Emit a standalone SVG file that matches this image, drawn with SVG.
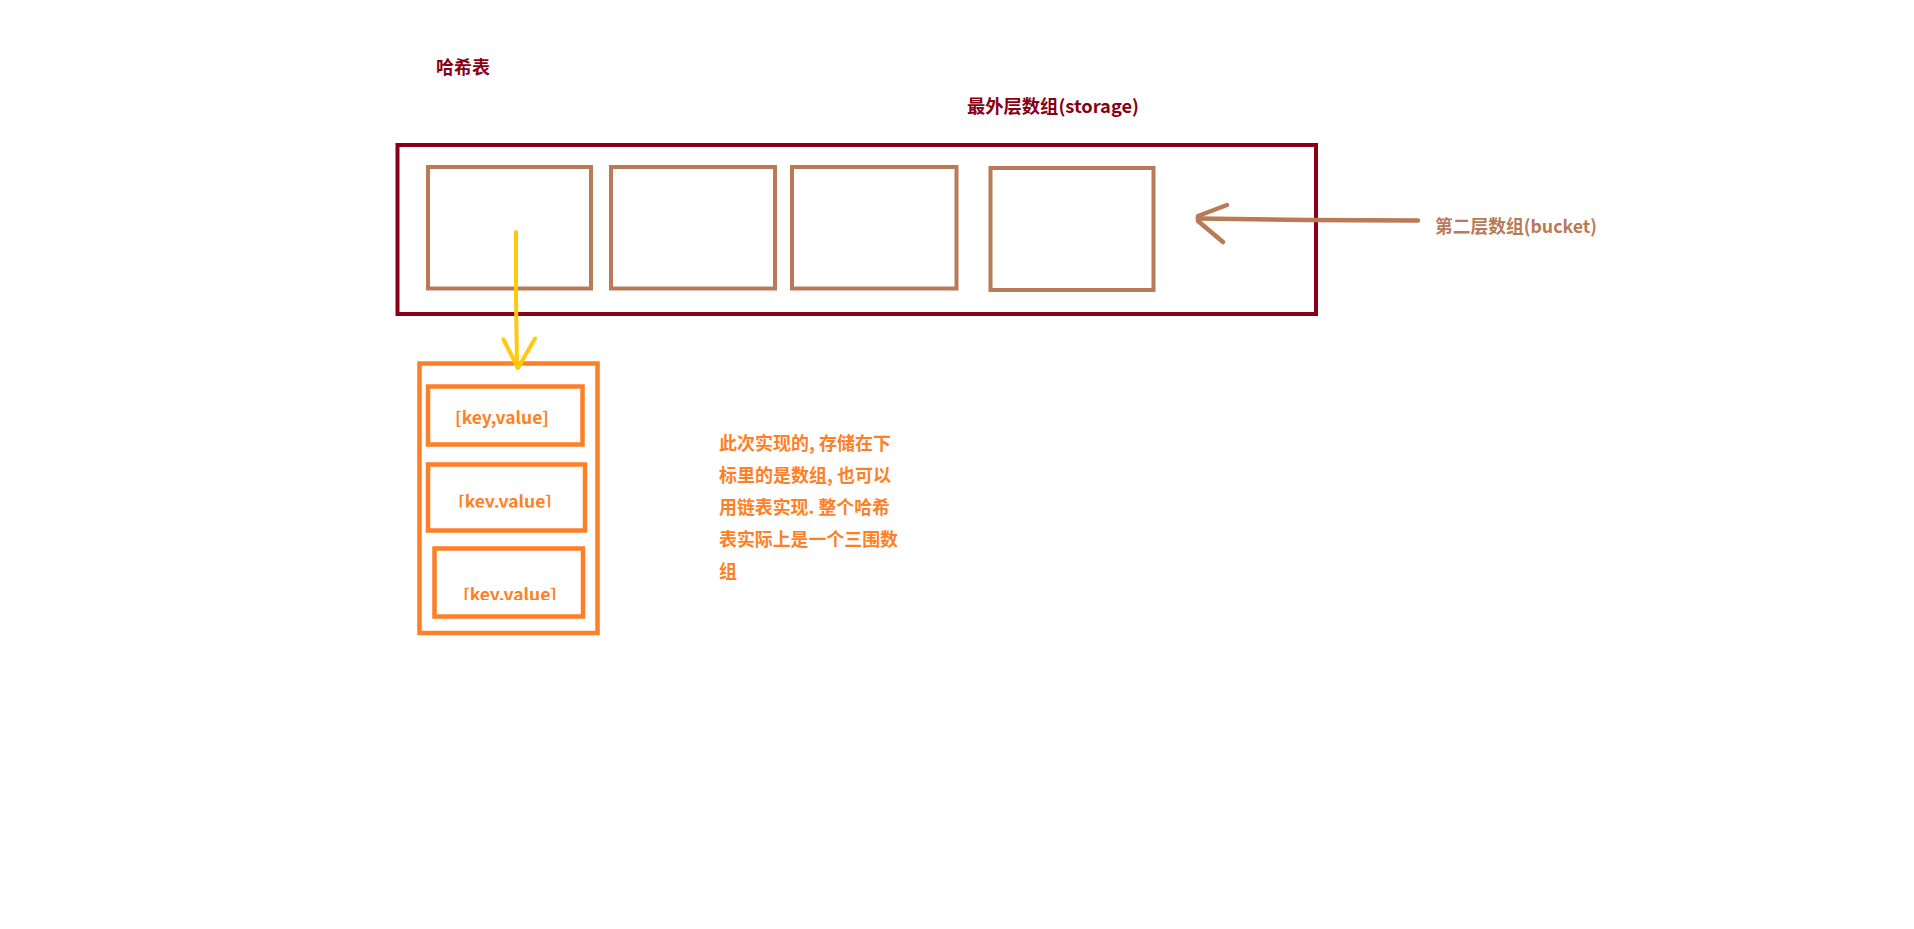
<svg xmlns="http://www.w3.org/2000/svg" width="1914" height="929" viewBox="0 0 1914 929">
<style>
  text { font-family: "Noto Sans CJK SC", "Noto Sans", sans-serif; font-weight: bold; }
  .title { fill: #880015; font-size: 18px; }
  .bucketlbl { fill: #B97A57; font-size: 18px; }
  .note { fill: #FF7F27; font-size: 18px; }
  .entry { fill: #FF7F27; font-size: 17px; }
  .outer { fill: none; stroke: #880015; stroke-width: 4; }
  .slot { fill: none; stroke: #B97A57; stroke-width: 4; }
  .box { fill: none; stroke: #FF7F27; stroke-width: 4.5; }
  .brown { fill: none; stroke: #B97A57; stroke-width: 4.5; stroke-linecap: round; stroke-linejoin: round; }
  .gold { fill: none; stroke: #FFC90E; stroke-width: 4; stroke-linecap: round; stroke-linejoin: round; }
</style>
<defs>
  <clipPath id="clip2"><rect x="440" y="480" width="140" height="27.5"/></clipPath>
  <clipPath id="clip3"><rect x="440" y="570" width="140" height="30"/></clipPath>
</defs>
<rect width="1914" height="929" fill="#FFFFFF"/>

<g id="title">
  <text class="title" x="436" y="74">哈希表</text>
</g>

<g id="storage">
  <rect class="outer" x="397.5" y="145" width="918.5" height="169"/>
  <text class="title" x="967" y="113" textLength="172" lengthAdjust="spacingAndGlyphs">最外层数组(storage)</text>
</g>

<g id="bucket0"><rect class="slot" x="428" y="167" width="163" height="121.5"/></g>
<g id="bucket1"><rect class="slot" x="611" y="167" width="164" height="121.5"/></g>
<g id="bucket2"><rect class="slot" x="792" y="167" width="164.5" height="121.5"/></g>
<g id="bucket3"><rect class="slot" x="990.5" y="168" width="163" height="122"/></g>

<g id="bucket-label">
  <text class="bucketlbl" x="1435" y="233" textLength="162" lengthAdjust="spacingAndGlyphs">第二层数组(bucket)</text>
</g>

<g id="bucket-content">
  <rect class="box" x="419.5" y="363.5" width="178" height="269.5"/>
</g>

<g id="entry1">
  <rect class="box" x="428" y="386.5" width="154.5" height="58"/>
  <text class="entry" x="455" y="424" textLength="94" lengthAdjust="spacingAndGlyphs">[key,value]</text>
</g>
<g id="entry2">
  <rect class="box" x="428" y="464.5" width="157" height="66"/>
  <text class="entry" x="458" y="507.5" textLength="94" lengthAdjust="spacingAndGlyphs" clip-path="url(#clip2)">[key,value]</text>
</g>
<g id="entry3">
  <rect class="box" x="434.5" y="548.5" width="148.5" height="68"/>
  <text class="entry" x="463" y="601" textLength="94" lengthAdjust="spacingAndGlyphs" clip-path="url(#clip3)">[key,value]</text>
</g>

<g id="note">
  <text class="note" x="719" y="449.5" textLength="172" lengthAdjust="spacingAndGlyphs">此次实现的, 存储在下</text>
  <text class="note" x="719" y="481.7" textLength="172" lengthAdjust="spacingAndGlyphs">标里的是数组, 也可以</text>
  <text class="note" x="719" y="513.9" textLength="171" lengthAdjust="spacingAndGlyphs">用链表实现. 整个哈希</text>
  <text class="note" x="719" y="546.1" textLength="179" lengthAdjust="spacingAndGlyphs">表实际上是一个三围数</text>
  <text class="note" x="719" y="578.3">组</text>
</g>

<g id="connectors">
  <path class="brown" d="M1418 220.5 L1306 220 L1198 218.5"/>
  <path class="brown" d="M1227 205 L1198 216 L1198 221 L1223 242"/>
  <path class="gold" d="M516 232 L516 298 L517 367"/>
  <path class="gold" d="M503.5 339.5 L518 368 L535 338.5"/>
</g>
</svg>
